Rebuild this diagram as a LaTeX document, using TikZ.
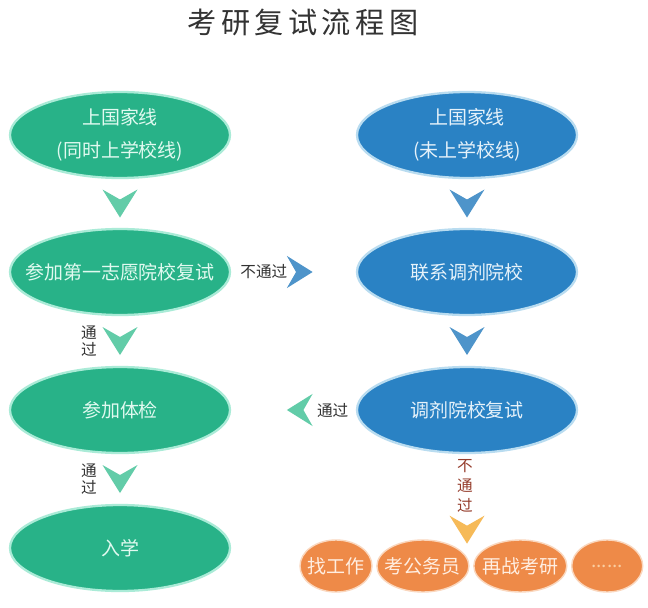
\documentclass[tikz,border=0pt]{standalone}
\usepackage{fontspec}
\setmainfont{Noto Sans CJK SC}
\usepackage{xcolor}
\definecolor{figgreen}{RGB}{40,178,136}
\definecolor{figblue}{RGB}{42,130,196}
\definecolor{figorange}{RGB}{238,138,72}
\definecolor{glowgreen}{RGB}{170,235,215}
\definecolor{glowblue}{RGB}{185,220,240}
\definecolor{gloworange}{RGB}{250,215,190}
\definecolor{txtgreen}{RGB}{225,250,240}
\definecolor{txtblue}{RGB}{230,242,250}
\definecolor{txtorange}{RGB}{255,238,225}
\definecolor{txtdots}{RGB}{250,205,160}
\definecolor{chgreen}{RGB}{98,204,168}
\definecolor{chblue}{RGB}{78,148,202}
\definecolor{chorange}{RGB}{246,186,88}
\definecolor{figgray}{RGB}{51,51,51}
\definecolor{figbrown}{RGB}{150,62,45}
\usepackage{tikz}
\usetikzlibrary{shapes.geometric,positioning,calc}
\newcommand{\ctxt}[1]{\makebox[0pt]{#1}}
\tikzset{chev/.pic={\path[pic actions] (-0.35,0.28) -- (0,0.08) -- (0.35,0.28) -- (0,-0.28) -- cycle;}}
\begin{document}
\begin{tikzpicture}[x=1cm,y=1cm,
  bigell/.style={ellipse,minimum width=4.4cm,minimum height=1.72cm,inner sep=0pt,
    line width=1.3pt,align=center,font=\fontsize{10.8}{18.7}\selectfont},
  gell/.style={bigell,fill=figgreen,draw=glowgreen,text=txtgreen},
  bell/.style={bigell,fill=figblue,draw=glowblue,text=txtblue},
  oell/.style={ellipse,minimum height=1.04cm,inner sep=0pt,fill=figorange,
    draw=gloworange,line width=0.8pt,text=txtorange,font=\fontsize{10.8}{13}\selectfont},
  lbl/.style={text=figgray,font=\fontsize{8.9}{10}\selectfont,inner sep=0pt,align=center}]
\fill[white] (0,0) rectangle (12.96,12.14);
\useasboundingbox (0,0) rectangle (12.96,12.14);
\node[text=figgray,font=\fontsize{16.6}{20}\selectfont\addfontfeature{LetterSpace=15}] (title) at (6.06,11.70) {考研复试流程图};
\node[gell] (natg)   at (2.40,9.44) {\ctxt{上国家线}\\\ctxt{(同时上学校线)}};
\node[gell] (first)  at (2.40,6.70) {\ctxt{参加第一志愿院校复试}};
\node[gell] (exam)   at (2.40,3.94) {\ctxt{参加体检}};
\node[gell] (enrol)  at (2.40,1.18) {\ctxt{入学}};
\node[bell] (natb)   at (9.34,9.44) {\ctxt{上国家线}\\\ctxt{(未上学校线)}};
\node[bell] (adjust) at (9.34,6.70) {\ctxt{联系调剂院校}};
\node[bell] (retest) at (9.34,3.94) {\ctxt{调剂院校复试}};
\node[oell,minimum width=1.44cm] (job) at (6.72,0.82) {\ctxt{找工作}};
\node[oell,minimum width=1.84cm,right=0.07cm of job]   (civil) {\ctxt{考公务员}};
\node[oell,minimum width=1.86cm,right=0.07cm of civil] (again) {\ctxt{再战考研}};
\node[oell,minimum width=1.42cm,right=0.07cm of again,text=txtdots] (more) {\ctxt{......}};
\coordinate (cl1) at ($(natg.south)!0.5!(first.north)$);
\coordinate (cl2) at ($(first.south)!0.5!(exam.north)$);
\coordinate (cl3) at ($(exam.south)!0.5!(enrol.north)$);
\coordinate (cr1) at ($(natb.south)!0.5!(adjust.north)$);
\coordinate (cr2) at ($(adjust.south)!0.5!(retest.north)$);
\coordinate (ch2) at ($(first.east)!0.55!(adjust.west)$);
\coordinate (ch3) at ($(exam.east)!0.55!(retest.west)$);
\coordinate (cb)  at ($(retest.south)+(0,-1.51)$);
\pic[fill=chgreen] at (cl1) {chev};
\pic[fill=chgreen] at (cl2) {chev};
\pic[fill=chgreen] at (cl3) {chev};
\pic[fill=chblue] at (cr1) {chev};
\pic[fill=chblue] at (cr2) {chev};
\pic[fill=chblue,rotate=90,scale=0.92] at (ch2) {chev};
\pic[fill=chgreen,rotate=-90,scale=0.92] at (ch3) {chev};
\pic[fill=chorange] at (cb) {chev};
\node[lbl] (pass1) at ($(cl2)+(-0.62,0)$) {通\\过};
\node[lbl] (pass2) at ($(cl3)+(-0.62,0)$) {通\\过};
\node[lbl,left=0.24cm] (fail1) at (ch2) {不通过};
\node[lbl,right=0.34cm] (pass3) at (ch3) {通过};
\node[lbl,text=figbrown,font=\fontsize{8.9}{11.3}\selectfont] (fail2) at ($(retest.south)+(-0.04,-0.64)$) {不\\通\\过};
\end{tikzpicture}
\end{document}
